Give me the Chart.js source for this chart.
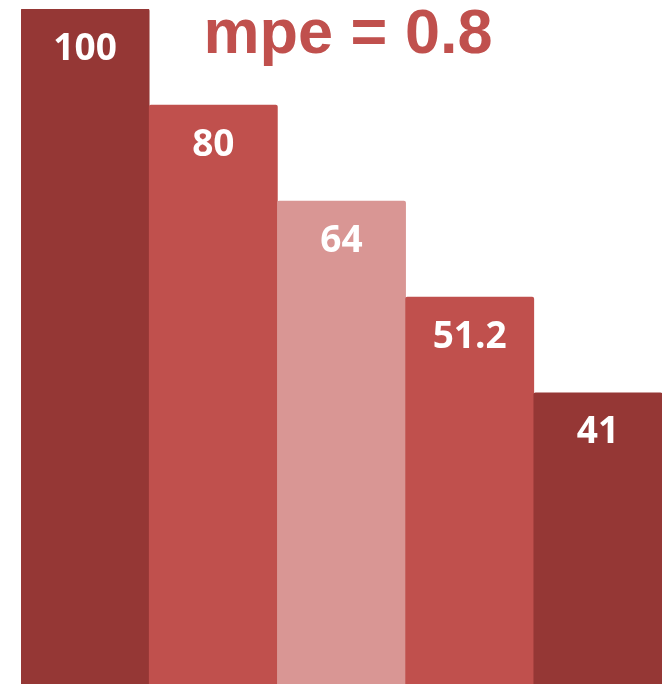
<!DOCTYPE html>
<html>
<head>
<meta charset="utf-8">
<script src="https://cdn.jsdelivr.net/npm/chart.js@4/dist/chart.umd.min.js"></script>
<style>
  html, body { margin: 0; padding: 0; background: #ffffff; }
  #wrap { width: 662px; height: 684px; position: relative; }
</style>
</head>
<body>
<div id="wrap"><canvas id="c" width="662" height="684"></canvas></div>
<script>
const categories = ["1", "2", "3", "4", "5"];
const values = [100, 80, 64, 51.2, 41];
const valueLabels = ["100", "80", "64", "51.2", "41"];
const barColors = ["#953735", "#C0504D", "#D99694", "#C0504D", "#953735"];
const titleText = "mpe = 0.8";

const labelPlugin = {
  id: "barLabels",
  afterDatasetsDraw(chart) {
    const ctx = chart.ctx;
    const meta = chart.getDatasetMeta(0);
    ctx.save();
    ctx.fillStyle = "#ffffff";
    ctx.font = "bold 37px 'Open Sans', 'Noto Sans', sans-serif";
    ctx.textAlign = "center";
    ctx.textBaseline = "middle";
    meta.data.forEach((bar, i) => {
      ctx.fillText(valueLabels[i], bar.x, bar.y + 40);
    });
    ctx.restore();
  }
};

const titlePlugin = {
  id: "bigTitle",
  afterDraw(chart) {
    const ctx = chart.ctx;
    ctx.save();
    ctx.fillStyle = "#C0504D";
    ctx.font = "bold 63px 'Liberation Sans', Arial, sans-serif";
    ctx.textAlign = "center";
    ctx.textBaseline = "alphabetic";
    ctx.fillText(titleText, 348, 53);
    ctx.restore();
  }
};

new Chart(document.getElementById("c"), {
  type: "bar",
  data: {
    labels: categories,
    datasets: [{
      data: values,
      backgroundColor: barColors,
      borderWidth: 0,
      borderRadius: { topLeft: 2, topRight: 2, bottomLeft: 0, bottomRight: 0 },
      borderSkipped: "bottom",
      categoryPercentage: 1.0,
      barPercentage: 1.0
    }]
  },
  options: {
    responsive: false,
    animation: false,
    layout: { padding: { top: 9, left: 21, right: 0, bottom: 0 } },
    plugins: { legend: { display: false }, tooltip: { enabled: false }, title: { display: false } },
    scales: {
      x: { display: false, grid: { display: false } },
      y: { type: "logarithmic", display: false, min: 20.84, max: 100, grid: { display: false } }
    }
  },
  plugins: [labelPlugin, titlePlugin]
});
</script>
</body>
</html>
